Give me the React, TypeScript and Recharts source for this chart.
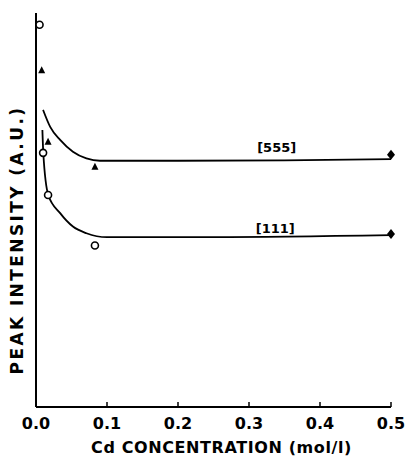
import {
  ComposedChart,
  Line,
  Scatter,
  XAxis,
  YAxis,
  ReferenceDot,
} from "recharts";

// measured points
const circleX = [0.005, 0.01, 0.017, 0.083];
const circleY = [97, 64.5, 53.8, 41];
const triX = [0.008, 0.017, 0.083];
const triY = [85.5, 67.3, 61];
const endX = [0.5, 0.5];
const endY = [64, 43.9];

// fitted curves
const c555X = [0.01, 0.02, 0.034, 0.052, 0.071, 0.09, 0.2, 0.35, 0.5];
const c555Y = [75.4, 71.1, 67.8, 64.8, 63.1, 62.5, 62.5, 62.6, 62.9];
const c111X = [0.009, 0.0103, 0.0173, 0.034, 0.052, 0.071, 0.1, 0.25, 0.5];
const c111Y = [70.3, 64.4, 53.8, 49.2, 45.8, 44.1, 43.1, 43.1, 43.6];

const xTicks = [0, 0.1, 0.2, 0.3, 0.4, 0.5];
const tags = [
  { x: 0.339, y: 66, text: "[555]" },
  { x: 0.337, y: 45.4, text: "[111]" },
];

const zip = (xs: number[], ys: number[]) => xs.map((x, i) => ({ x, y: ys[i] }));

const font = "'DejaVu Sans', sans-serif";

const XTick = (p: any) => (
  <g>
    <line x1={p.x} x2={p.x} y1={p.y} y2={p.y - 5} stroke="#000" strokeWidth={1.5} />
    <text x={p.x} y={p.y + 22} textAnchor="middle" fontSize={16} fontWeight="bold" fontFamily={font} fill="#000">
      {p.payload.value.toFixed(1)}
    </text>
  </g>
);

const OpenCircle = (p: any) => (
  <circle cx={p.cx} cy={p.cy} r={3.5} fill="#fff" stroke="#000" strokeWidth={1.6} />
);
const Tri = (p: any) => (
  <path d={`M${p.cx},${p.cy - 4}L${p.cx + 3.5},${p.cy + 3}L${p.cx - 3.5},${p.cy + 3}Z`} fill="#000" />
);
const Dia = (p: any) => (
  <path d={`M${p.cx},${p.cy - 5}L${p.cx + 4},${p.cy}L${p.cx},${p.cy + 5}L${p.cx - 4},${p.cy}Z`} fill="#000" />
);

export default function App() {
  return (
    <div style={{ position: "absolute", left: 0, top: 0, background: "#fff" }}>
      <ComposedChart width={407} height={457} margin={{ top: 13, right: 16, bottom: 0, left: 0 }}>
        <XAxis
          dataKey="x"
          type="number"
          domain={[0, 0.5]}
          ticks={xTicks}
          height={50}
          tickSize={0}
          tickMargin={0}
          tick={<XTick />}
          axisLine={{ stroke: "#000", strokeWidth: 2 }}
          label={{
            value: "Cd CONCENTRATION (mol/l)",
            position: "insideBottom",
            offset: 4,
            dx: 8,
            fontSize: 16,
            fontWeight: "bold",
            letterSpacing: 0.6,
            fontFamily: font,
            fill: "#000",
          }}
        />
        <XAxis
          xAxisId="top"
          orientation="top"
          type="number"
          domain={[0, 0.5]}
          height={0}
          tick={false}
          tickLine={false}
          axisLine={{ stroke: "#000", strokeWidth: 2 }}
        />
        <YAxis
          dataKey="y"
          type="number"
          domain={[0, 100]}
          width={36}
          tick={false}
          tickLine={false}
          axisLine={{ stroke: "#000", strokeWidth: 2 }}
          label={{
            content: () => (
              <text
                x={23}
                y={240}
                transform="rotate(-90 23 240)"
                textAnchor="middle"
                fontSize={17}
                fontWeight="bold"
                letterSpacing={2.4}
                fontFamily={font}
                fill="#000"
              >
                PEAK INTENSITY (A.U.)
              </text>
            ),
          }}
        />
        <YAxis
          yAxisId="r"
          orientation="right"
          type="number"
          domain={[0, 100]}
          width={0}
          tick={false}
          tickLine={false}
          axisLine={{ stroke: "#000", strokeWidth: 2 }}
        />
        <Line data={zip(c555X, c555Y)} dataKey="y" type="monotone" stroke="#000" strokeWidth={1.8} dot={false} isAnimationActive={false} />
        <Line data={zip(c111X, c111Y)} dataKey="y" type="monotone" stroke="#000" strokeWidth={1.8} dot={false} isAnimationActive={false} />
        <Scatter data={zip(circleX, circleY)} shape={<OpenCircle />} isAnimationActive={false} />
        <Scatter data={zip(triX, triY)} shape={<Tri />} isAnimationActive={false} />
        <Scatter data={zip(endX, endY)} shape={<Dia />} isAnimationActive={false} />
        {tags.map((t) => (
          <ReferenceDot
            key={t.text}
            x={t.x}
            y={t.y}
            r={0}
            stroke="none"
            label={{ value: t.text, position: "center", fontSize: 13, fontWeight: "bold", fontFamily: font, fill: "#000" }}
          />
        ))}
      </ComposedChart>
    </div>
  );
}
